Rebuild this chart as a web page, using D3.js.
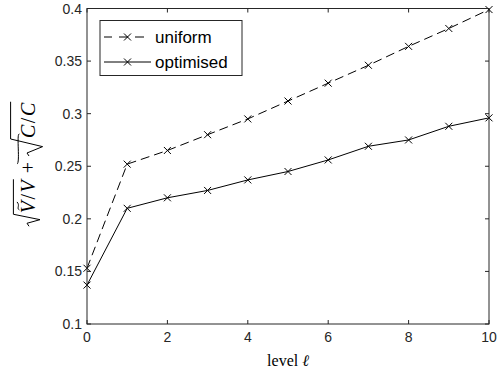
<!DOCTYPE html>
<html>
<head>
<meta charset="utf-8">
<script src="https://cdn.jsdelivr.net/npm/d3@7"></script>
<style>
  html, body { margin: 0; padding: 0; background: #fff; }
  svg { display: block; }
</style>
</head>
<body>
<svg id="chart" width="499" height="374"></svg>
<script>
// Levels and error estimates per level
const levels = [0, 1, 2, 3, 4, 5, 6, 7, 8, 9, 10];
const uniform = [0.153, 0.252, 0.265, 0.280, 0.295, 0.312, 0.329, 0.346, 0.364, 0.381, 0.399];
const optimised = [0.137, 0.210, 0.220, 0.227, 0.237, 0.245, 0.256, 0.269, 0.275, 0.288, 0.296];
const xTicks = [0, 2, 4, 6, 8, 10];
const yTicks = [0.1, 0.15, 0.2, 0.25, 0.3, 0.35, 0.4];
const yTickLabels = ["0.1", "0.15", "0.2", "0.25", "0.3", "0.35", "0.4"];
const seriesNames = ["uniform", "optimised"];

const svg = d3.select("#chart");
const axisColor = "#262626";
const sans = "'Liberation Sans', Arial, Helvetica, sans-serif";
const serif = "'Liberation Serif', 'Times New Roman', serif";

const plotLeft = 87, plotRight = 489, plotTop = 8.5, plotBottom = 324;
const x = d3.scaleLinear().domain([0, 10]).range([plotLeft, plotRight]);
const y = d3.scaleLinear().domain([0.1, 0.4]).range([plotBottom, plotTop]);

// Lines
const line = d3.line().x((d, i) => x(levels[i])).y(d => y(d));
const series = [
  { name: seriesNames[0], values: uniform, dash: "9,5" },
  { name: seriesNames[1], values: optimised, dash: null }
];

function cross(g, cx, cy, r) {
  g.append("path")
    .attr("d", `M${cx - r},${cy - r}L${cx + r},${cy + r}M${cx - r},${cy + r}L${cx + r},${cy - r}`)
    .attr("stroke", "#000").attr("stroke-width", 1).attr("fill", "none");
}

const plot = svg.append("g");
series.forEach(s => {
  plot.append("path")
    .datum(s.values)
    .attr("d", line)
    .attr("fill", "none")
    .attr("stroke", "#000")
    .attr("stroke-width", 1)
    .attr("stroke-dasharray", s.dash);
  s.values.forEach((v, i) => cross(plot, x(levels[i]), y(v), 3.5));
});

// Axes box with inward ticks on all sides
const axes = svg.append("g");
axes.append("rect")
  .attr("x", plotLeft).attr("y", plotTop)
  .attr("width", plotRight - plotLeft).attr("height", plotBottom - plotTop)
  .attr("fill", "none").attr("stroke", axisColor).attr("stroke-width", 1);

const tl = 4;
xTicks.forEach(t => {
  const px = x(t);
  axes.append("line").attr("x1", px).attr("x2", px).attr("y1", plotBottom).attr("y2", plotBottom - tl)
    .attr("stroke", axisColor);
  axes.append("line").attr("x1", px).attr("x2", px).attr("y1", plotTop).attr("y2", plotTop + tl)
    .attr("stroke", axisColor);
  axes.append("text").attr("x", px).attr("y", plotBottom + 18)
    .attr("text-anchor", "middle").attr("font-family", sans).attr("font-size", 14)
    .attr("fill", axisColor).text(t);
});
yTicks.forEach((t, i) => {
  const py = y(t);
  axes.append("line").attr("x1", plotLeft).attr("x2", plotLeft + tl).attr("y1", py).attr("y2", py)
    .attr("stroke", axisColor);
  axes.append("line").attr("x1", plotRight).attr("x2", plotRight - tl).attr("y1", py).attr("y2", py)
    .attr("stroke", axisColor);
  axes.append("text").attr("x", plotLeft - 5).attr("y", py + 5)
    .attr("text-anchor", "end").attr("font-family", sans).attr("font-size", 14)
    .attr("fill", axisColor).text(yTickLabels[i]);
});

// X label
const xl = svg.append("text").attr("x", (plotLeft + plotRight) / 2).attr("y", 366)
  .attr("text-anchor", "middle").attr("font-family", serif).attr("font-size", 16)
  .attr("fill", "#000");
xl.append("tspan").text("level ");
xl.append("tspan").attr("font-style", "italic").text("\u2113");

// Y label: sqrt(Ṽ/V) + sqrt(C̃/C), laid out piece by piece in a rotated group
const fs = 20;
const yl = svg.append("g").attr("transform", "translate(35,164) rotate(-90)");

function measure(str, italic) {
  const t = yl.append("text").attr("font-family", serif).attr("font-size", fs)
    .attr("font-style", italic ? "italic" : "normal").text(str);
  const w = t.node().getComputedTextLength();
  t.remove();
  return w;
}

const wLetV = measure("V", true), wLetC = measure("C", true), wSlash = measure("/", false);
const wPlus = measure("+", false);
const sp = 1.5;
const terms = [
  { letter: "V", wl: wLetV, rad: 12, h: fs * 1.08, depth: fs * 0.25 },
  { letter: "C", wl: wLetC, rad: 17, h: fs * 1.22, depth: fs * 0.38 }
];
const gap = 6;
const contentW = t => t.wl * 2 + wSlash + 2 * sp + 2;
const totalW = terms[0].rad + contentW(terms[0]) + gap + wPlus + gap + terms[1].rad + contentW(terms[1]);
let u = -totalW / 2;

function drawTerm(t) {
  const r0 = u, c0 = u + t.rad, cw = contentW(t);
  // radical sign with overbar
  yl.append("path")
    .attr("d", `M${r0},${-fs * 0.3}L${r0 + 3},${-fs * 0.4}L${r0 + t.rad * 0.55},${t.depth}L${c0},${-t.h}L${c0 + cw},${-t.h}`)
    .attr("fill", "none").attr("stroke", "#000").attr("stroke-width", 1);
  const tx = yl.append("text").attr("x", c0 + 1).attr("y", 0)
    .attr("font-family", serif).attr("font-size", fs);
  tx.append("tspan").attr("font-style", "italic").text(t.letter);
  tx.append("tspan").attr("dx", sp).text("/");
  tx.append("tspan").attr("dx", sp).attr("font-style", "italic").text(t.letter);
  // tilde accent over the first letter
  const cx = c0 + 1 + t.wl * 0.6, ty = -fs * 0.84;
  yl.append("path")
    .attr("d", `M${cx - 4},${ty + 1.2}C${cx - 2.5},${ty - 2}${cx + 0.5},${ty + 2.2}${cx + 4},${ty - 1.2}`)
    .attr("fill", "none").attr("stroke", "#000").attr("stroke-width", 1);
  u = c0 + cw;
}

drawTerm(terms[0]);
u += gap;
yl.append("text").attr("x", u).attr("y", 0).attr("font-family", serif).attr("font-size", fs).text("+");
u += wPlus + gap;
drawTerm(terms[1]);

// Legend
const lg = svg.append("g");
lg.append("rect").attr("x", 100).attr("y", 20.5).attr("width", 142).attr("height", 55)
  .attr("fill", "#fff").attr("stroke", axisColor).attr("stroke-width", 1);
series.forEach((s, i) => {
  const ly = 37 + i * 25;
  lg.append("line").attr("x1", 104).attr("x2", 151).attr("y1", ly).attr("y2", ly)
    .attr("stroke", "#000").attr("stroke-width", 1)
    .attr("stroke-dasharray", s.dash ? "9,7" : null)
    .attr("stroke-dashoffset", s.dash ? 1 : null);
  cross(lg, 127.5, ly, 3.5);
  lg.append("text").attr("x", 155).attr("y", ly + 6)
    .attr("font-family", sans).attr("font-size", 17).attr("fill", "#000").text(s.name);
});
</script>
</body>
</html>
